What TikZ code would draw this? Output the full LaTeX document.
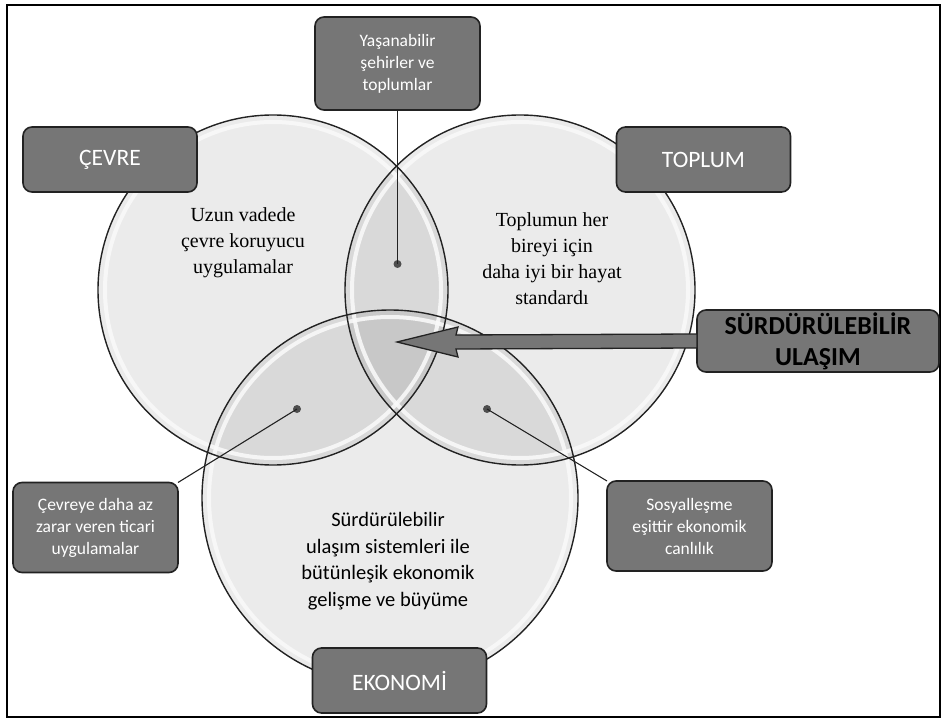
\documentclass[tikz,border=0pt]{standalone}
\usepackage{fontspec}
\setmainfont{Liberation Serif}
\newfontfamily\boxfont{Carlito}
\usetikzlibrary{calc}
\definecolor{boxgray}{HTML}{767676}
\definecolor{ink}{HTML}{222222}
\definecolor{rim}{HTML}{FAFAFA}
\tikzset{
  venn/.style={circle,inner sep=0pt,outer sep=0pt,minimum size=#1},
  vennfill/.style={fill=black,fill opacity=0.08},
  tag/.style={draw=ink,line width=1.6pt,rounded corners=9pt,fill=boxgray,text=white,align=center,inner sep=2pt,outer sep=0pt,
    font=\boxfont\fontsize{23.5}{27}\selectfont,minimum width=174pt,minimum height=65pt},
  smalltag/.style={tag,font=\boxfont\fontsize{17.5}{22}\selectfont,minimum width=165pt,minimum height=90pt},
  keytag/.style={tag,text=black,font=\boxfont\bfseries\fontsize{26}{31}\selectfont,minimum width=242pt,minimum height=62pt},
  circtext/.style={align=center,text=black,font=\fontsize{20}{26}\selectfont},
  ecotext/.style={align=center,text=black,font=\boxfont\fontsize{20.5}{26.5}\selectfont},
  dot/.style={circle,fill=ink!80,inner sep=0pt,minimum size=8pt},
  lead/.style={draw=ink,line width=1.1pt},
  bigarrow/.style={draw=ink,line width=1.3pt,fill=boxgray,line join=miter},
}

\begin{document}
\begin{tikzpicture}[x=1pt,y=-1pt]
\useasboundingbox (0,0) rectangle (947,719);
\draw[line width=2pt] (7,5) rectangle (940,717);

% three circles
\node[venn=350pt] (cevre) at (273,290) {};
\node[venn=350pt] (toplum) at (520,290) {};
\node[venn=376pt] (ekonomi) at (390,498) {};
\fill[vennfill] (cevre.center) circle[radius=175];
\fill[vennfill] (toplum.center) circle[radius=175];
\fill[vennfill] (ekonomi.center) circle[radius=188];
\draw[rim,line width=4pt,opacity=0.85] (cevre.center) circle[radius=168];
\draw[rim,line width=4pt,opacity=0.85] (toplum.center) circle[radius=168];
\draw[rim,line width=4pt,opacity=0.85] (ekonomi.center) circle[radius=181];
\draw[ink,line width=1.4pt] (cevre.center) circle[radius=175];
\draw[ink,line width=1.4pt] (toplum.center) circle[radius=175];
\draw[ink,line width=1.4pt] (ekonomi.center) circle[radius=188];

% texts inside the circles
\node[circtext] (cevretext) at (243,243) {Uzun vadede\\çevre koruyucu\\uygulamalar};
\node[circtext] (toplumtext) at (552,259) {Toplumun her\\bireyi için\\daha iyi bir hayat\\standardı};
\node[ecotext] (ekotext) at (388,561) {Sürdürülebilir\\ulaşım sistemleri ile\\bütünleşik ekonomik\\gelişme ve büyüme};

% labels
\node[tag] (cevretag) at (110,159.5) {ÇEVRE};
\node[tag] (topltag) at (703.5,159.5) {TOPLUM};
\node[tag] (ekotag) at (399.5,680.5) {EKONOMİ};
\node[smalltag,minimum height=93pt] (yasam) at (397.5,63.5) {Yaşanabilir\\şehirler ve\\toplumlar};
\node[smalltag] (cevreye) at (95.5,527.5) {Çevreye daha az\\zarar veren ticari\\uygulamalar};
\node[smalltag] (sosyal) at (689.5,526) {Sosyalleşme\\eşittir ekonomik\\canlılık};
\node[keytag] (ulasim) at (818,341) {SÜRDÜRÜLEBİLİR\\ULAŞIM};

% overlap markers
\node[dot] (d1) at (397.5,264) {};
\node[dot] (d2) at (297,409) {};
\node[dot] (d3) at (487,409) {};
\draw[lead] (yasam.south) -- (d1.center);
\draw[lead] (cevreye.north east) -- (d2.center);
\draw[lead] (sosyal.north west) -- (d3.center);

% arrow to the common area
\coordinate (hub) at (397,342);
\draw[bigarrow] (hub) -- ++(61,-15) -- ++(-2,8) -- ($(ulasim.west)+(0,-7)$)
  -- ($(ulasim.west)+(0,7)$) -- ($(hub)+(59,7)$) -- ++(2,8) -- cycle;

\end{tikzpicture}
\end{document}
